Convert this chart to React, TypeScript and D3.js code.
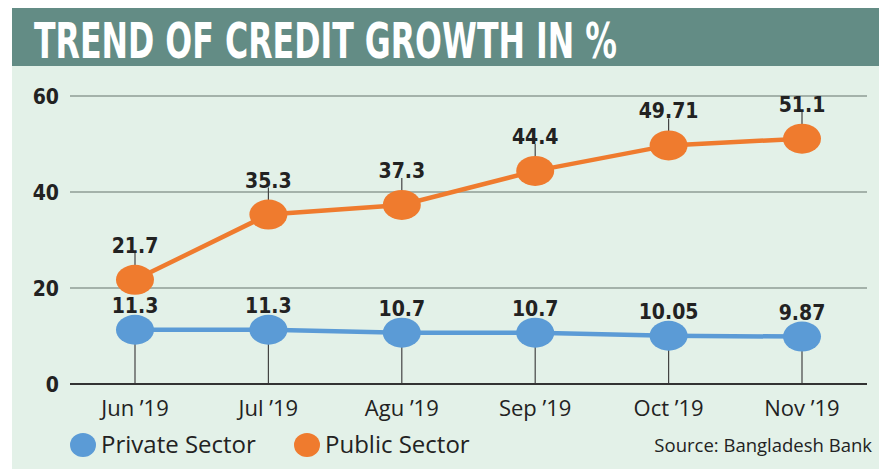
import React, { useEffect, useRef } from 'react';
import * as d3 from 'd3';

// chart data
const months = ['Jun ’19', 'Jul ’19', 'Agu ’19', 'Sep ’19', 'Oct ’19', 'Nov ’19'];
const privateSector = [11.3, 11.3, 10.7, 10.7, 10.05, 9.87];
const publicSector = [21.7, 35.3, 37.3, 44.4, 49.71, 51.1];
const yTicks = [0, 20, 40, 60];
const title = 'TREND OF CREDIT GROWTH IN %';
const source = 'Source: Bangladesh Bank';

const W = 879, H = 469;
const BLUE = '#5b9bd6';
const ORANGE = '#ef7b2e';
const NUM_FONT = '"DejaVu Sans Condensed", "DejaVu Sans", sans-serif';
const TXT_FONT = '"Open Sans", sans-serif';

const App = () => {
  const svgRef = useRef<SVGSVGElement>(null);

  useEffect(() => {
    const svg = d3.select(svgRef.current);
    svg.selectAll('*').remove();

    // background panel + header band
    svg.append('rect').attr('x', 12).attr('y', 66).attr('width', W - 12).attr('height', H - 66).attr('fill', '#e3f1e8');
    svg.append('rect').attr('x', 12).attr('y', 8).attr('width', W - 12).attr('height', 58).attr('fill', '#638c85');
    svg.append('text')
      .attr('x', 34).attr('y', 58)
      .attr('textLength', 583).attr('lengthAdjust', 'spacingAndGlyphs')
      .style('font-family', NUM_FONT).style('font-weight', 'bold').style('font-size', '50px')
      .attr('fill', '#fff')
      .text(title);

    const x = d3.scalePoint<string>().domain(months).range([135, 802]);
    const y = d3.scaleLinear().domain([0, 60]).range([384, 96]);

    // gridlines
    svg.append('g').selectAll('line').data(yTicks.filter(t => t > 0)).enter().append('line')
      .attr('x1', 70).attr('x2', 867)
      .attr('y1', d => y(d)).attr('y2', d => y(d))
      .attr('stroke', '#8f9c96').attr('stroke-width', 1.5);

    // y tick labels
    svg.append('g').selectAll('text').data(yTicks).enter().append('text')
      .attr('x', 59).attr('y', d => y(d) + 8)
      .attr('text-anchor', 'end')
      .style('font-family', NUM_FONT).style('font-weight', 'bold').style('font-size', '21px')
      .attr('fill', '#222')
      .text(d => d);

    // vertical drop lines
    svg.append('g').selectAll('line').data(months).enter().append('line')
      .attr('x1', d => x(d)!).attr('x2', d => x(d)!)
      .attr('y1', y(0)).attr('y2', (d, i) => y(privateSector[i]))
      .attr('stroke', '#444').attr('stroke-width', 1.2);
    svg.append('g').selectAll('line').data(months).enter().append('line')
      .attr('x1', d => x(d)!).attr('x2', d => x(d)!)
      .attr('y1', (d, i) => y(publicSector[i])).attr('y2', (d, i) => y(publicSector[i]) - 27)
      .attr('stroke', '#444').attr('stroke-width', 1.2);

    // zero axis
    svg.append('line').attr('x1', 70).attr('x2', 867).attr('y1', y(0)).attr('y2', y(0))
      .attr('stroke', '#333').attr('stroke-width', 1.8);

    const series = [
      { values: publicSector, color: ORANGE, off: 27 },
      { values: privateSector, color: BLUE, off: 17 },
    ];

    series.forEach(s => {
      const line = d3.line<number>().x((d, i) => x(months[i])!).y(d => y(d));
      svg.append('path').datum(s.values).attr('d', line)
        .attr('fill', 'none').attr('stroke', s.color).attr('stroke-width', 4.5);
      svg.append('g').selectAll('ellipse').data(s.values).enter().append('ellipse')
        .attr('cx', (d, i) => x(months[i])!).attr('cy', d => y(d))
        .attr('rx', 19).attr('ry', 15)
        .attr('fill', s.color);
      svg.append('g').selectAll('text').data(s.values).enter().append('text')
        .attr('x', (d, i) => x(months[i])!).attr('y', d => y(d) - s.off)
        .attr('text-anchor', 'middle')
        .style('font-family', NUM_FONT).style('font-weight', 'bold').style('font-size', '21px')
        .attr('fill', '#222')
        .text(d => String(d));
    });

    // x labels
    svg.append('g').selectAll('text').data(months).enter().append('text')
      .attr('x', d => x(d)!).attr('y', 416)
      .attr('text-anchor', 'middle')
      .style('font-family', TXT_FONT).style('font-size', '22px')
      .attr('fill', '#222')
      .text(d => d);

    // legend
    const legend = [
      { label: 'Private Sector', color: BLUE, cx: 83 },
      { label: 'Public Sector', color: ORANGE, cx: 307 },
    ];
    legend.forEach(l => {
      svg.append('ellipse').attr('cx', l.cx).attr('cy', 445).attr('rx', 13).attr('ry', 12).attr('fill', l.color);
      svg.append('text').attr('x', l.cx + 18).attr('y', 453)
        .style('font-family', TXT_FONT).style('font-size', '24px').attr('fill', '#222')
        .text(l.label);
    });
    svg.append('text').attr('x', 872).attr('y', 452).attr('text-anchor', 'end')
      .style('font-family', TXT_FONT).style('font-size', '18.5px').attr('fill', '#222')
      .text(source);
  }, []);

  return (
    <svg ref={svgRef} width={W} height={H}
      style={{ position: 'absolute', left: 0, top: 0, background: '#fff' }} />
  );
};

export default App;
